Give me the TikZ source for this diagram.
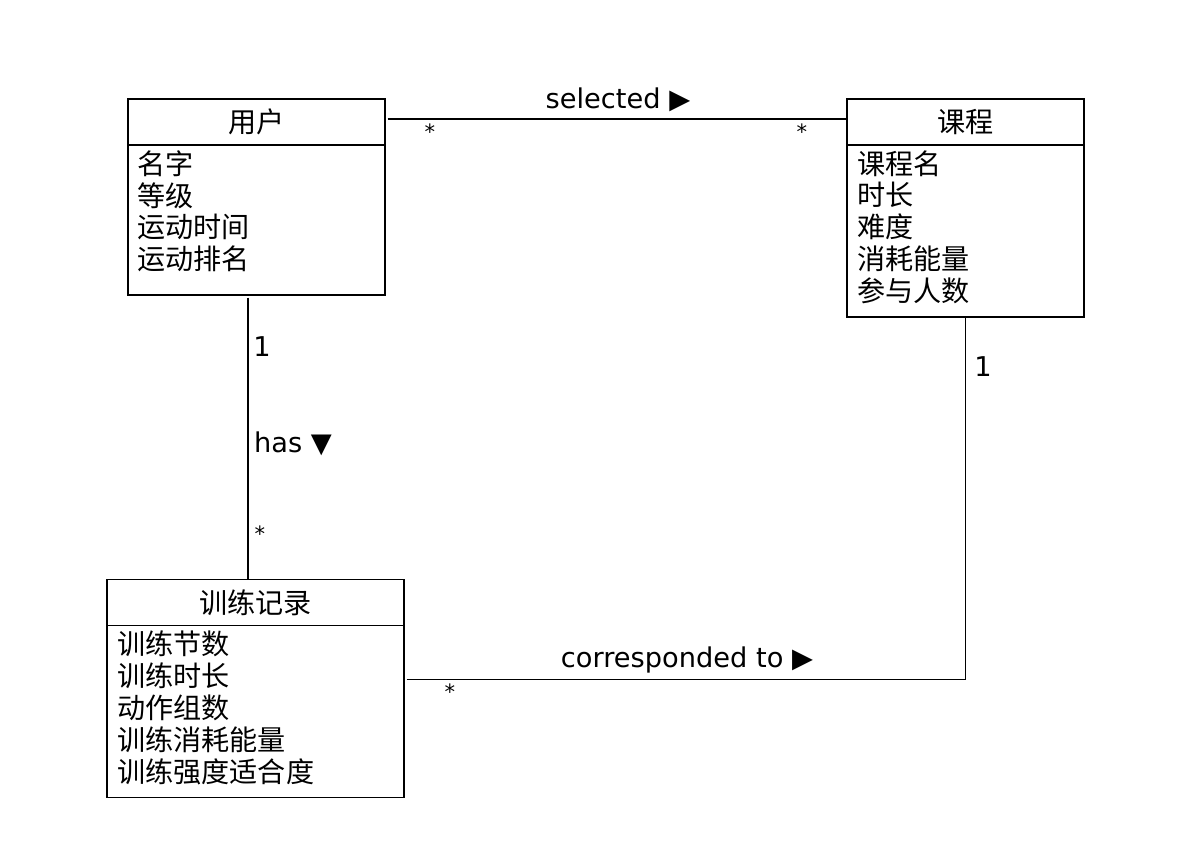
\documentclass[tikz,border=0pt]{standalone}
\usepackage{fontspec}
\setmainfont{DejaVu Sans}
\newfontfamily\cjk{Noto Sans CJK SC}
\usetikzlibrary{positioning}
\begin{document}
\begin{tikzpicture}[x=0.02cm, y=-0.02cm, line width=1pt,
  classhead/.style={draw, minimum height=0.92cm, inner sep=0pt, outer sep=0pt, font=\cjk\fontsize{16}{18.14}\selectfont},
  classbody/.style={draw, inner sep=0pt, outer sep=0pt},
  attrs/.style={anchor=north west, align=left, inner sep=0pt, font=\cjk\fontsize{16}{18.14}\selectfont},
  assoc/.style={shorten <=1.5pt},
  lbl/.style={inner sep=0pt, font=\fontsize{15.5}{18}\selectfont},
  mult/.style={inner sep=0pt, font=\fontsize{12}{14}\selectfont}]
\useasboundingbox (0,0) rectangle (1194,868);

\node[classhead, minimum width=5.14cm] (user) at (256.5,122) {用户};
\node[classbody, minimum width=5.14cm, minimum height=3cm, below=0pt of user] (userbody) {};
\node[attrs] (userattrs) at ([xshift=0.17cm, yshift=-0.09cm]userbody.north west) {名字\\等级\\运动时间\\运动排名};

\node[classhead, minimum width=4.74cm] (course) at (965.5,122) {课程};
\node[classbody, minimum width=4.74cm, minimum height=3.44cm, below=0pt of course] (coursebody) {};
\node[attrs] (courseattrs) at ([xshift=0.19cm, yshift=-0.09cm]coursebody.north west) {课程名\\时长\\难度\\消耗能量\\参与人数};

\node[classhead, minimum width=5.94cm] (record) at (255.5,602.5) {训练记录};
\node[classbody, minimum width=5.94cm, minimum height=3.44cm, below=0pt of record] (recordbody) {};
\node[attrs] (recordattrs) at ([xshift=0.19cm, yshift=-0.09cm]recordbody.north west) {训练节数\\训练时长\\动作组数\\训练消耗能量\\训练强度适合度};

\draw[assoc] ([yshift=0.06cm]user.east) -- ([yshift=0.06cm]course.west);
\draw[assoc] ([xshift=-0.17cm]userbody.south) -- ([xshift=-0.17cm]userbody.south |- record.north);
\draw[assoc] ([yshift=0.64cm]recordbody.east) -| (coursebody.south);

\node[lbl] (selected) at (618,100) {selected ▶};
\node[mult] (selA) at (430,132) {*};
\node[mult] (selB) at (802,132) {*};
\node[lbl] (hasA) at (262,347) {1};
\node[lbl] (has) at (293,444) {has ▼};
\node[mult] (hasB) at (260,534) {*};
\node[lbl] (corr) at (687,660) {corresponded to ▶};
\node[mult] (corrA) at (450,692) {*};
\node[lbl] (corrB) at (983,367) {1};
\end{tikzpicture}
\end{document}
